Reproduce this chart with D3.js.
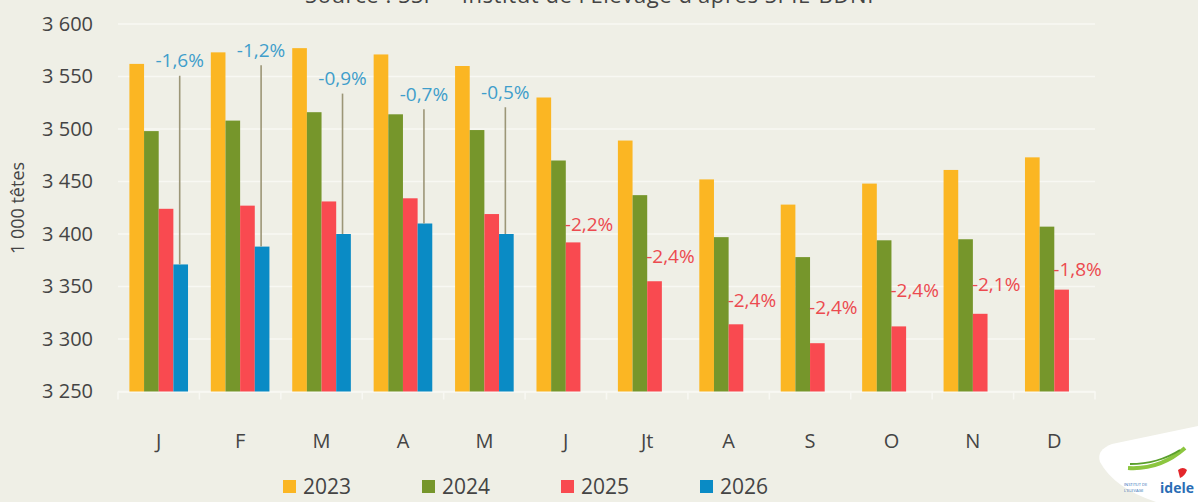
<!DOCTYPE html>
<html>
<head>
<meta charset="utf-8">
<script src="https://cdn.jsdelivr.net/npm/d3@7"></script>
<style>
  html, body { margin: 0; padding: 0; background: #efefe6; }
  svg { display: block; font-family: "Open Sans", sans-serif; }
</style>
</head>
<body>
<svg id="chart" width="1198" height="502"></svg>
<script>
var months = ['J', 'F', 'M', 'A', 'M', 'J', 'Jt', 'A', 'S', 'O', 'N', 'D'];
var years = ['2023', '2024', '2025', '2026'];
var colors = ['#fbb623', '#76962b', '#f94a50', '#0a8bc5'];

// 1 000 têtes
var v2023 = [3562, 3573, 3577, 3571, 3560, 3530, 3489, 3452, 3428, 3448, 3461, 3473];
var v2024 = [3498, 3508, 3516, 3514, 3499, 3470, 3437, 3397, 3378, 3394, 3395, 3407];
var v2025 = [3424, 3427, 3431, 3434, 3419, 3392, 3355, 3314, 3296, 3312, 3324, 3347];
var v2026 = [3371, 3388, 3400, 3410, 3400, null, null, null, null, null, null, null];

var yTicks = [3250, 3300, 3350, 3400, 3450, 3500, 3550, 3600];

// variation labels and the level (in 1 000 têtes) where they sit
var varLabels = ['-1,6%', '-1,2%', '-0,9%', '-0,7%', '-0,5%', '-2,2%', '-2,4%', '-2,4%', '-2,4%', '-2,4%', '-2,1%', '-1,8%'];
var varLevels = [3565, 3575, 3548, 3533, 3535, 3409, 3379, 3337, 3330, 3346, 3352, 3366];

var series = [v2023, v2024, v2025, v2026];

var svg = d3.select('#chart');
var plotLeft = 118, plotRight = 1095, plotTop = 24, plotBottom = 391.5;

var x = d3.scaleBand()
    .domain(d3.range(months.length))
    .range([plotLeft, plotRight])
    .paddingInner(0.28)
    .paddingOuter(0.14);

var xs = d3.scaleBand()
    .domain(d3.range(years.length))
    .range([0, x.bandwidth()]);

var y = d3.scaleLinear()
    .domain([3250, 3600])
    .range([plotBottom, plotTop]);

var fmt = d3.formatLocale({decimal: ',', thousands: ' ', grouping: [3], currency: ['', '']}).format(',');

// title (cut off at top)
svg.append('text')
    .attr('x', 305)
    .attr('y', 3)
    .attr('font-size', 22)
    .attr('letter-spacing', 0.6)
    .attr('fill', '#444')
    .text("Source : SSP \u2013 Institut de l'Elevage d'après SPIE-BDNI");

// grid
svg.append('g')
    .selectAll('line')
    .data(yTicks)
    .enter()
    .append('line')
    .attr('x1', plotLeft)
    .attr('x2', plotRight)
    .attr('y1', function(d) { return y(d); })
    .attr('y2', function(d) { return y(d); })
    .attr('stroke', '#f8f8f3')
    .attr('stroke-width', 1.5);

// y axis
var yAxis = svg.append('g')
    .attr('transform', 'translate(' + (plotLeft - 22) + ',0)')
    .call(d3.axisLeft(y).tickValues(yTicks).tickFormat(fmt).tickSize(0));
yAxis.select('.domain').remove();
yAxis.selectAll('text')
    .attr('font-family', '"Open Sans", sans-serif')
    .attr('font-size', 20)
    .attr('fill', '#444');

svg.append('text')
    .attr('transform', 'translate(24,' + 208 + ') rotate(-90)')
    .attr('text-anchor', 'middle')
    .attr('font-size', 18)
    .attr('fill', '#444')
    .text('1 000 têtes');

// x axis
var xAxis = svg.append('g')
    .attr('transform', 'translate(0,' + plotBottom + ')')
    .call(d3.axisBottom(x).tickFormat(function(i) { return months[i]; }).tickSize(0).tickPadding(42));
xAxis.select('.domain')
    .attr('stroke', '#f8f8f3')
    .attr('stroke-width', 1.5);
xAxis.selectAll('text')
    .attr('font-family', '"Open Sans", sans-serif')
    .attr('font-size', 20)
    .attr('fill', '#444');

// separators below the axis
svg.append('g')
    .selectAll('line')
    .data(d3.range(months.length + 1))
    .enter()
    .append('line')
    .attr('x1', function(i) { return plotLeft + i * x.step(); })
    .attr('x2', function(i) { return plotLeft + i * x.step(); })
    .attr('y1', plotBottom)
    .attr('y2', plotBottom + 8)
    .attr('stroke', '#f8f8f3')
    .attr('stroke-width', 1.5);

// bars
series.forEach(function(vals, s) {
    svg.append('g')
        .selectAll('rect')
        .data(vals.map(function(v, i) { return {i: i, v: v}; }).filter(function(d) { return d.v != null; }))
        .enter()
        .append('rect')
        .attr('x', function(d) { return x(d.i) + xs(s); })
        .attr('width', xs.bandwidth())
        .attr('y', function(d) { return y(d.v); })
        .attr('height', function(d) { return plotBottom - y(d.v); })
        .attr('fill', colors[s]);
});

// variation labels
var labels = varLabels.map(function(t, i) {
    return {i: i, t: t, level: varLevels[i], blue: v2026[i] != null};
});

svg.append('g')
    .selectAll('line')
    .data(labels.filter(function(d) { return d.blue; }))
    .enter()
    .append('line')
    .attr('x1', function(d) { return x(d.i) + xs(3) + xs.bandwidth() / 2 - 1; })
    .attr('x2', function(d) { return x(d.i) + xs(3) + xs.bandwidth() / 2 - 1; })
    .attr('y1', function(d) { return y(d.level) + 15; })
    .attr('y2', function(d) { return y(v2026[d.i]); })
    .attr('stroke', '#9c9677')
    .attr('stroke-width', 1.6);

svg.append('g')
    .selectAll('text')
    .data(labels)
    .enter()
    .append('text')
    .attr('x', function(d) {
        return d.blue ? x(d.i) + xs(3) + xs.bandwidth() / 2 - 1 : x(d.i) + xs(2) - 1;
    })
    .attr('y', function(d) { return y(d.level); })
    .attr('dy', '0.35em')
    .attr('text-anchor', function(d) { return d.blue ? 'middle' : 'start'; })
    .attr('font-size', 19)
    .attr('fill', function(d) { return d.blue ? '#3f9ecb' : '#ec4a4f'; })
    .text(function(d) { return d.t; });

// legend
var legend = svg.append('g')
    .selectAll('g')
    .data(years)
    .enter()
    .append('g')
    .attr('transform', function(d, i) { return 'translate(' + (283 + i * 139) + ',480)'; });
legend.append('rect')
    .attr('width', 13)
    .attr('height', 13)
    .attr('fill', function(d, i) { return colors[i]; });
legend.append('text')
    .attr('x', 20)
    .attr('y', 7)
    .attr('dy', '0.35em')
    .attr('font-size', 21)
    .attr('fill', '#444')
    .text(function(d) { return d; });

// logo
var logo = svg.append('g');
logo.append('path')
    .attr('d', 'M1100,462 Q1096,450 1112,444 L1198,426 L1198,502 L1156,502 Q1114,488 1100,462 Z')
    .attr('fill', '#ffffff');
logo.append('path')
    .attr('d', 'M1128,468 Q1160,470 1185,448')
    .attr('fill', 'none')
    .attr('stroke', '#8cc63f')
    .attr('stroke-width', 4);
logo.append('path')
    .attr('d', 'M1130,464 Q1158,464 1180,450')
    .attr('fill', 'none')
    .attr('stroke', '#5aa02c')
    .attr('stroke-width', 2);
logo.append('path')
    .attr('d', 'M1178,470 q5,-4 9,0 q-2,6 -7,8')
    .attr('fill', '#e3262b');
logo.append('text')
    .attr('x', 1160)
    .attr('y', 493)
    .attr('font-size', 14)
    .attr('font-weight', 'bold')
    .attr('fill', '#2a6db5')
    .text('idele');
logo.append('text')
    .attr('x', 1124)
    .attr('y', 486)
    .attr('font-size', 4)
    .attr('fill', '#2a6db5')
    .text('INSTITUT DE');
logo.append('text')
    .attr('x', 1124)
    .attr('y', 492)
    .attr('font-size', 4)
    .attr('fill', '#2a6db5')
    .text("L'ELEVAGE");
</script>
</body>
</html>
